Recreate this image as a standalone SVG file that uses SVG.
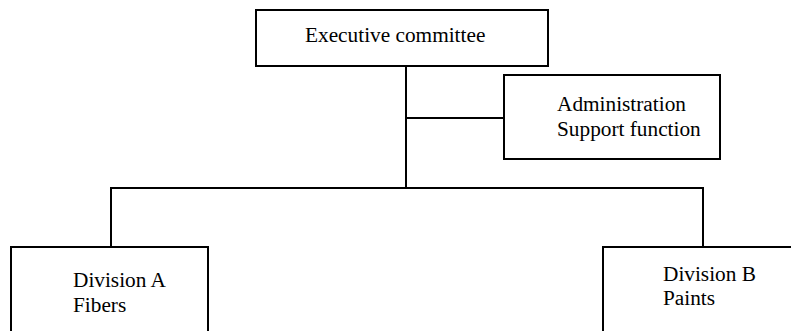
<svg xmlns="http://www.w3.org/2000/svg" width="791" height="331" viewBox="0 0 791 331">
<style>
.box{fill:#fff;stroke:#000;stroke-width:2}
.ln{fill:none;stroke:#000;stroke-width:2}
text{font-family:"Liberation Serif","Times New Roman",serif;font-size:21.3px;fill:#000}
</style>
<rect width="791" height="331" fill="#fff"/>
<g id="connectors">
<line class="ln" x1="406" y1="66" x2="406" y2="188"/>
<line class="ln" x1="406" y1="118" x2="504" y2="118"/>
<polyline class="ln" points="111,247 111,188 703,188 703,247"/>
</g>
<g id="exec">
<rect class="box" x="256" y="10" width="292" height="56"/>
<text x="305" y="42">Executive committee</text>
</g>
<g id="admin">
<rect class="box" x="504" y="75" width="216" height="84"/>
<text x="557" y="111">Administration</text>
<text x="557" y="136">Support function</text>
</g>
<g id="divA">
<rect class="box" x="11" y="247" width="197" height="100"/>
<text x="73" y="286.5">Division A</text>
<text x="73" y="311.5">Fibers</text>
</g>
<g id="divB">
<rect class="box" x="603" y="247" width="200" height="100"/>
<text x="663" y="280.5">Division B</text>
<text x="663" y="305">Paints</text>
</g>
</svg>
